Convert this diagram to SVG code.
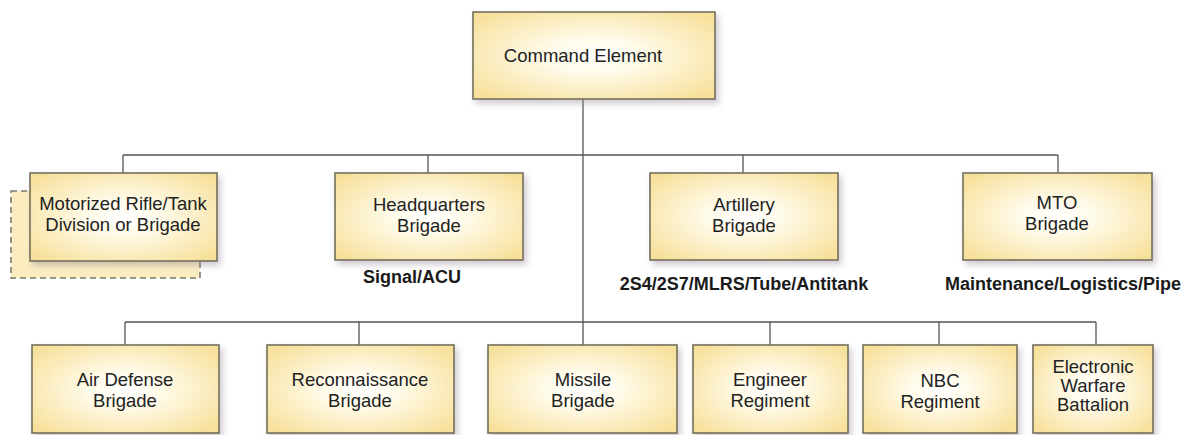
<svg xmlns="http://www.w3.org/2000/svg" width="1190" height="435" viewBox="0 0 1190 435">
<defs>
<radialGradient id="fill" cx="50%" cy="50%" r="65%">
<stop offset="0" stop-color="#ffffff"/>
<stop offset="0.3" stop-color="#fffbea"/>
<stop offset="1" stop-color="#f7e09a"/>
</radialGradient>
<filter id="sh" x="-10%" y="-10%" width="130%" height="140%">
<feDropShadow dx="3" dy="4" stdDeviation="3" flood-color="#9a8a9a" flood-opacity="0.45"/>
</filter>
<style>
.box{fill:url(#fill);stroke:#74705a;stroke-width:1.6;filter:url(#sh)}
.dash{fill:#fbedc0;stroke:#7a7a70;stroke-width:1.6;stroke-dasharray:6 4}
.t{font-family:"Liberation Sans",Arial,sans-serif;font-size:18.5px;fill:#222222;text-anchor:middle}
.b{font-family:"Liberation Sans",Arial,sans-serif;font-size:18px;font-weight:bold;fill:#1a1a1a;text-anchor:middle}
.c{stroke:#555555;stroke-width:1.3;fill:none}
</style>
</defs>
<rect width="1190" height="435" fill="#ffffff"/>
<g id="connectors">
<path class="c" d="M583 99 V322"/>
<path class="c" d="M123 155 H1058 M123 155 V173 M428 155 V173 M743 155 V173 M1058 155 V173"/>
<path class="c" d="M125 322 H1096 M125 322 V345 M359 322 V345 M583 322 V345 M770 322 V345 M939 322 V345 M1096 322 V345"/>
</g>
<g id="command">
<rect class="box" x="473" y="12" width="242" height="87"/>
<text class="t" x="583" y="62">Command Element</text>
</g>
<g id="motorized">
<rect class="dash" x="11" y="191" width="189" height="87"/>
<rect class="box" x="30" y="173" width="187" height="88"/>
<text class="t" x="123" y="210">Motorized Rifle/Tank</text>
<text class="t" x="123" y="231">Division or Brigade</text>
</g>
<g id="hq">
<rect class="box" x="335" y="173" width="188" height="87"/>
<text class="t" x="429" y="211">Headquarters</text>
<text class="t" x="429" y="232">Brigade</text>
<text class="b" x="412" y="283">Signal/ACU</text>
</g>
<g id="artillery">
<rect class="box" x="650" y="173" width="188" height="87"/>
<text class="t" x="744" y="211">Artillery</text>
<text class="t" x="744" y="232">Brigade</text>
<text class="b" x="744" y="290">2S4/2S7/MLRS/Tube/Antitank</text>
</g>
<g id="mto">
<rect class="box" x="963" y="173" width="189" height="87"/>
<text class="t" x="1057" y="209">MTO</text>
<text class="t" x="1057" y="230">Brigade</text>
<text class="b" x="945" y="290" style="text-anchor:start">Maintenance/Logistics/Pipe</text>
</g>
<g id="airdefense">
<rect class="box" x="32" y="345" width="187" height="88"/>
<text class="t" x="125" y="386">Air Defense</text>
<text class="t" x="125" y="407">Brigade</text>
</g>
<g id="recon">
<rect class="box" x="267" y="345" width="187" height="88"/>
<text class="t" x="360" y="386">Reconnaissance</text>
<text class="t" x="360" y="407">Brigade</text>
</g>
<g id="missile">
<rect class="box" x="488" y="345" width="189" height="88"/>
<text class="t" x="583" y="386">Missile</text>
<text class="t" x="583" y="407">Brigade</text>
</g>
<g id="engineer">
<rect class="box" x="693" y="345" width="155" height="88"/>
<text class="t" x="770" y="386">Engineer</text>
<text class="t" x="770" y="407">Regiment</text>
</g>
<g id="nbc">
<rect class="box" x="863" y="345" width="154" height="88"/>
<text class="t" x="940" y="387">NBC</text>
<text class="t" x="940" y="408">Regiment</text>
</g>
<g id="ew">
<rect class="box" x="1033" y="345" width="120" height="88"/>
<text class="t" x="1093" y="373">Electronic</text>
<text class="t" x="1093" y="392">Warfare</text>
<text class="t" x="1093" y="411">Battalion</text>
</g>
</svg>
